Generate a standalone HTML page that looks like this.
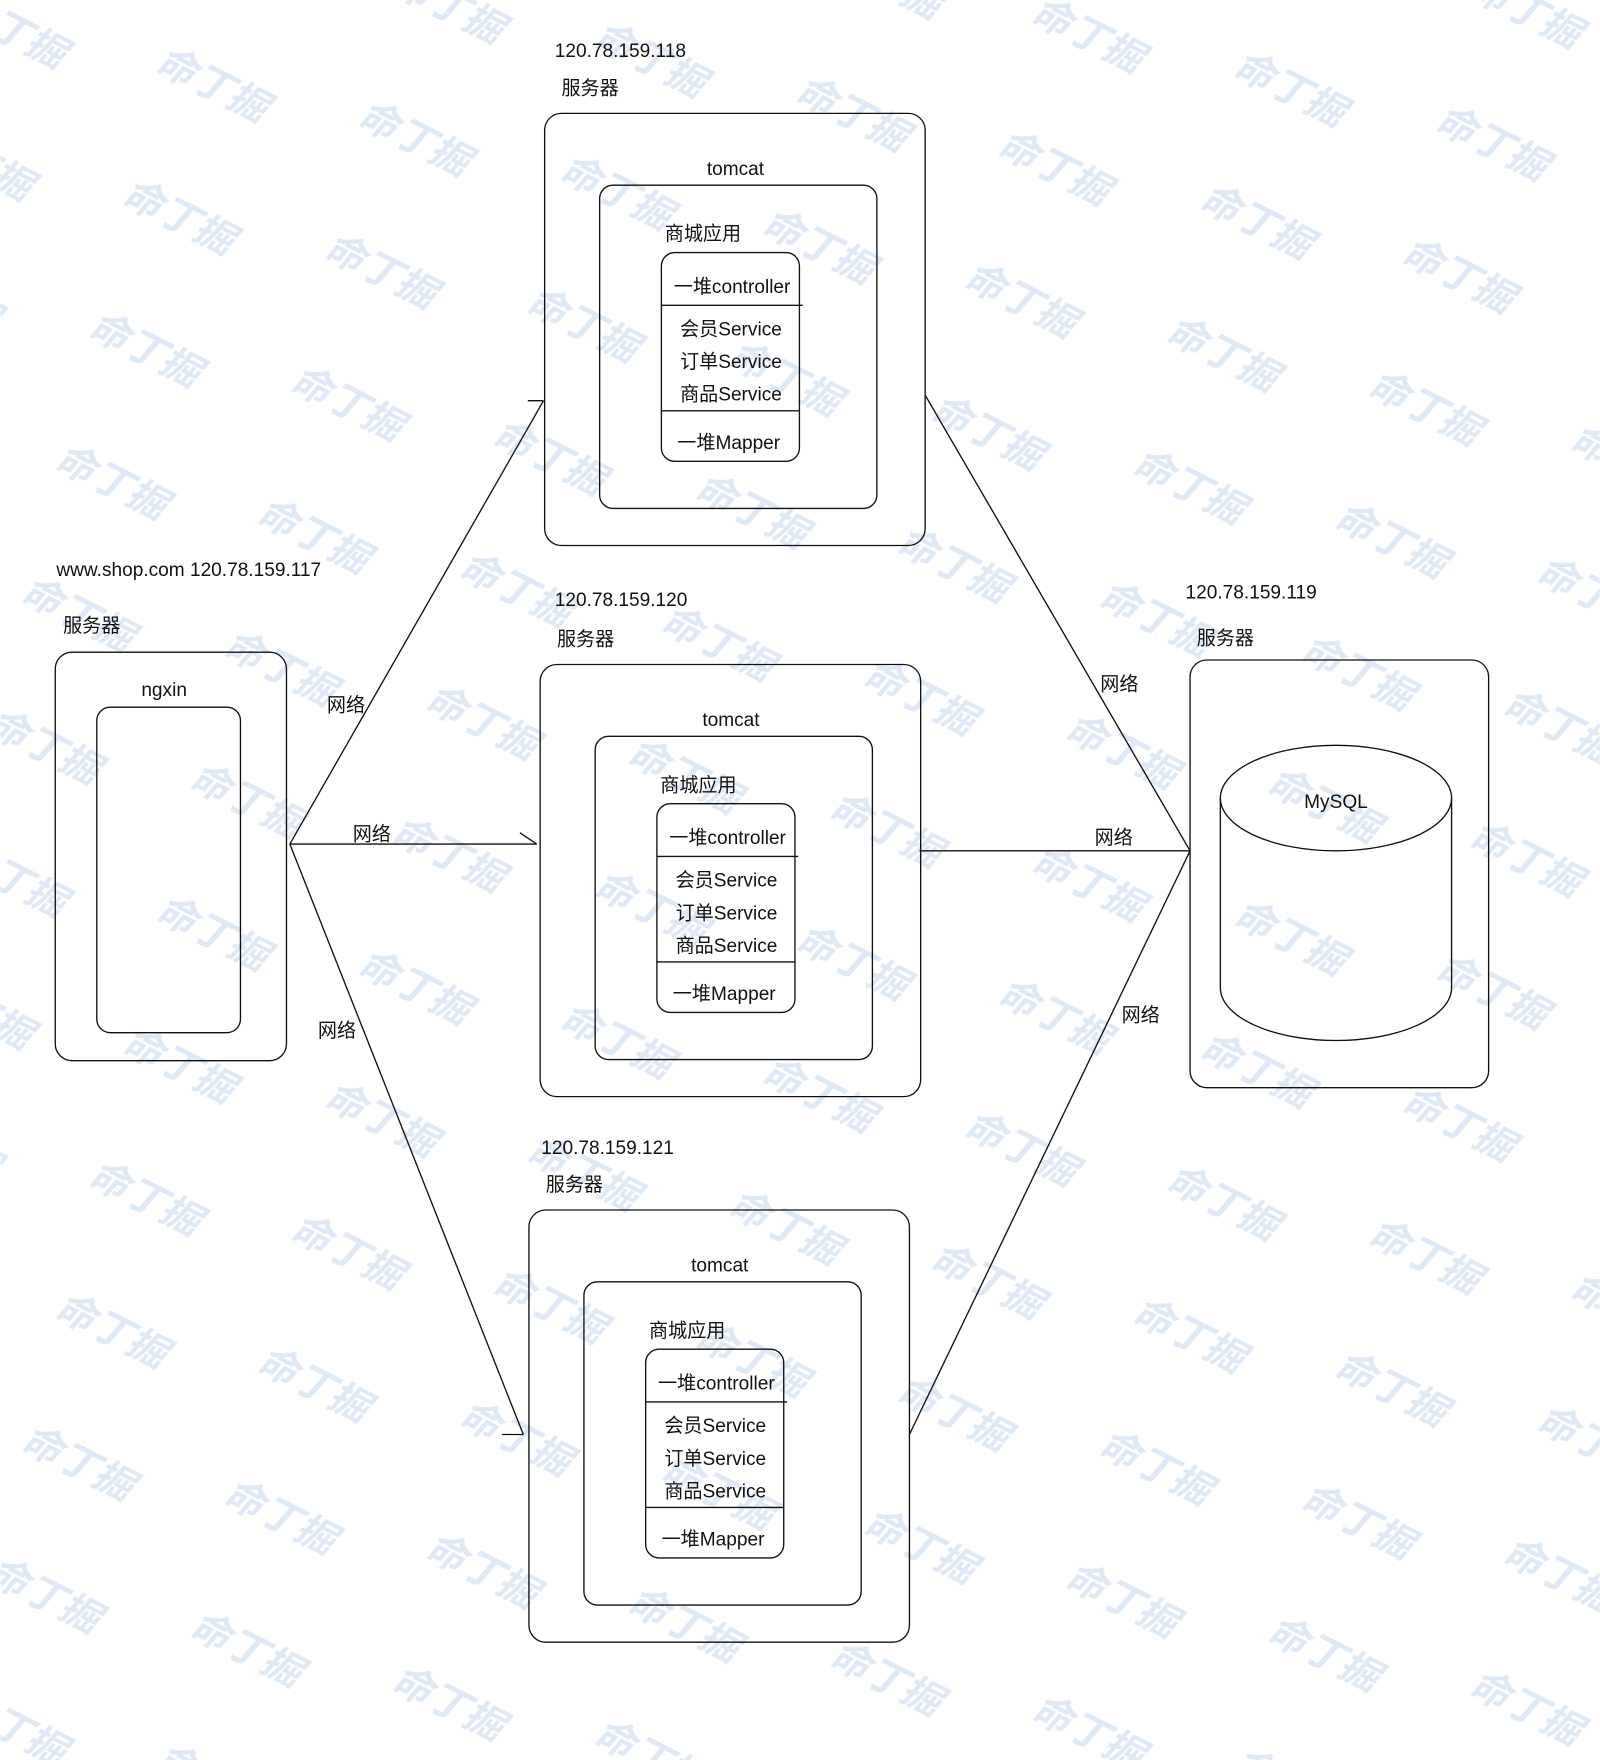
<!DOCTYPE html>
<html><head><meta charset="utf-8"><style>
html,body{margin:0;padding:0;background:#fff;}
svg{display:block;}
text{font-family:"Liberation Sans","Noto Sans CJK SC",sans-serif;font-size:17px;fill:#111;}
.wm{font-size:34px;font-weight:bold;fill:#dfe9f6;font-style:italic;}
</style></head><body>
<svg width="1600" height="1760" viewBox="0 0 1425 1568" xmlns="http://www.w3.org/2000/svg">
<defs>
<pattern id="wm" patternUnits="userSpaceOnUse" width="180" height="118" patternTransform="matrix(1,0.2667,-0.254,1,140,10)">
<text class="wm" x="10" y="60" transform="rotate(12 60 50)">命丁掘</text>
</pattern>
<g id="srv" fill="none" stroke="#111" stroke-width="1.2">
<rect x="485" y="101" width="339" height="385" rx="15"/>
<rect x="534" y="165" width="247" height="288" rx="12"/>
<rect x="589" y="225" width="123" height="186" rx="12"/>
<line x1="589" y1="272" x2="715" y2="272"/>
<line x1="589" y1="366" x2="712" y2="366"/>
</g>
<g id="srvt">
<text x="500" y="84">服务器</text>
<text x="655" y="156" text-anchor="middle">tomcat</text>
<text x="592" y="214">商城应用</text>
<text x="652" y="261" text-anchor="middle">一堆controller</text>
<text x="651" y="299" text-anchor="middle">会员Service</text>
<text x="651" y="328" text-anchor="middle">订单Service</text>
<text x="651" y="357" text-anchor="middle">商品Service</text>
<text x="649" y="400" text-anchor="middle">一堆Mapper</text>
</g>
</defs>
<rect width="1425" height="1568" fill="url(#wm)"/>
<use href="#srv"/><use href="#srvt"/>
<g transform="translate(-4,491)"><use href="#srv"/><use href="#srvt"/></g>
<g transform="translate(-14,977)"><use href="#srv"/><use href="#srvt"/></g>
<text x="494" y="51">120.78.159.118</text>
<text x="494" y="540">120.78.159.120</text>
<text x="482" y="1028">120.78.159.121</text>
<g fill="none" stroke="#111" stroke-width="1.2">
<rect x="49" y="581" width="206" height="364" rx="15"/>
<rect x="86" y="630" width="128" height="290" rx="12"/>
<rect x="1060" y="588" width="266" height="381" rx="15"/>
<ellipse cx="1190" cy="711" rx="103" ry="47"/>
<path d="M1087 711 V880 A103 47 0 0 0 1293 880 V711"/>
<path d="M258 752 L484 357 M470 357 H484 M258 752 H478 M463 742 L478 752 M258 752 L466 1278 M447 1278 H466"/>
<path d="M824 352 L1060 758 M819 758 H1060 M810 1278 L1060 758"/>
</g>
<text x="50" y="513">www.shop.com  120.78.159.117</text>
<text x="56" y="563">服务器</text>
<text x="146" y="620" text-anchor="middle">ngxin</text>
<text x="1056" y="533">120.78.159.119</text>
<text x="1066" y="574">服务器</text>
<text x="1190" y="720" text-anchor="middle">MySQL</text>
<text x="291" y="634">网络</text>
<text x="314" y="749">网络</text>
<text x="283" y="924">网络</text>
<text x="980" y="615">网络</text>
<text x="975" y="752">网络</text>
<text x="999" y="910">网络</text>
</svg>
</body></html>
